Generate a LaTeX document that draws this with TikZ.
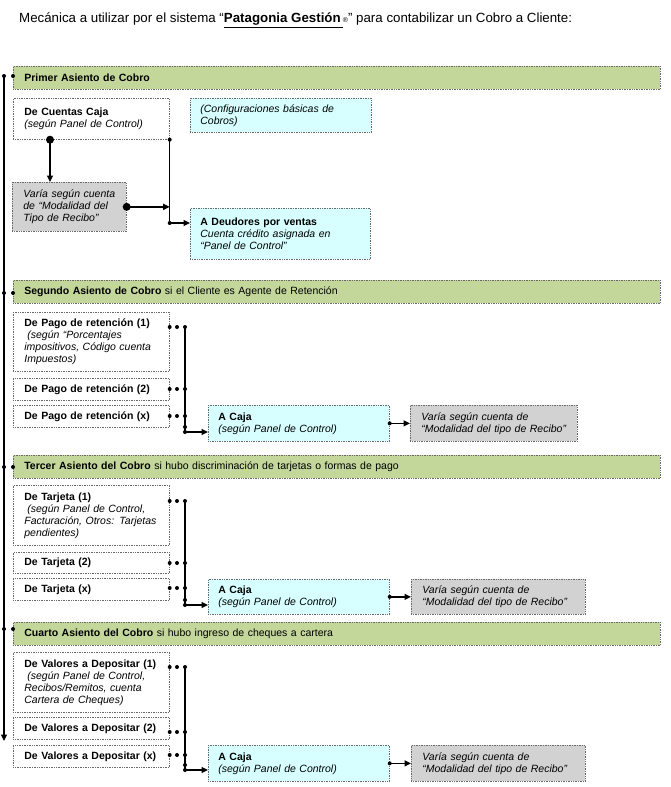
\documentclass[tikz,border=0pt]{standalone}
\usepackage{fontspec}
\setmainfont{Liberation Sans}
\usetikzlibrary{arrows.meta}
\definecolor{greenf}{RGB}{196,215,155}
\definecolor{cyanf}{RGB}{215,255,255}
\definecolor{grayf}{RGB}{210,210,210}
\definecolor{bord}{RGB}{105,105,105}
\newcommand{\bodyfs}{\fontsize{10.5}{12}\selectfont}
\newcommand{\oneline}[1]{\mbox{#1}}
\newcommand{\thickul}[1]{\leavevmode\vtop{\hbox{#1}\kern1.3pt\hrule height 1.3pt}}
\begin{document}
\begin{tikzpicture}[x=1pt,y=-1pt,
  bx/.style={draw=bord, densely dotted, line width=0.7pt, align=left, inner xsep=11pt, inner ysep=0pt,
    anchor=north west, font=\bodyfs, fill=white},
  wbox/.style={bx, text width=134pt},
  cbox/.style={bx, fill=cyanf, inner xsep=10pt, text width=161pt},
  gbox/.style={bx, fill=grayf},
  bar/.style={bx, fill=greenf, text width=625pt, minimum height=23pt},
  arr/.style={line width=1.3pt, -{Triangle[length=6.5pt,width=6pt]}},
]
\useasboundingbox (0,0) rectangle (670,787);

% title
\node[anchor=base west, inner sep=0pt, font=\fontsize{13.3}{15}\selectfont] (title) at (19,22.5)
  {Mecánica a utilizar por el sistema “\thickul{\textbf{Patagonia Gestión}\,}{\scriptsize ®}” para contabilizar un Cobro a Cliente:};

% bars
\node[bar] (b1) at (13,66) {\textbf{Primer Asiento de Cobro}};
\node[bar] (b2) at (13,280) {\textbf{Segundo Asiento de Cobro} si el Cliente es Agente de Retención};
\node[bar] (b3) at (13,455) {\textbf{Tercer Asiento del Cobro} si hubo discriminación de tarjetas o formas de pago};
\node[bar] (b4) at (13,622) {\textbf{Cuarto Asiento del Cobro} si hubo ingreso de cheques a cartera};

% main left line
\coordinate (Ltop) at (4,76);
\coordinate (Lend) at (4,741);
\draw[arr] (Ltop) -- (Lend);
\foreach \yy/\bb in {76/b1,293/b2,467/b3,629/b4}{
  \fill (4,\yy) circle (2);
  \fill (\bb.west |- 0,\yy) circle (2);
}

% ---------- section 1
\node[wbox, minimum height=41pt] (cc) at (13,98)
  {\oneline{\textbf{De Cuentas Caja}}\\\oneline{\textit{(según Panel de Control)}}};
\node[cbox, minimum height=34pt] (conf) at (190,98)
  {\oneline{\textit{(Configuraciones básicas de}}\\\oneline{\textit{Cobros)}}};
\node[gbox, text width=92pt, minimum height=49pt] (var1) at (12,182)
  {\oneline{\textit{Varía según cuenta}}\\\oneline{\textit{de “Modalidad del}}\\\oneline{\textit{Tipo de Recibo”}}};
\node[cbox, text width=160pt, minimum height=51pt] (deu) at (190,208)
  {\oneline{\textbf{A Deudores por ventas}}\\\oneline{\textit{Cuenta crédito asignada en}}\\\oneline{\textit{“Panel de Control”}}};

\coordinate (c1) at (50,0);
\coordinate (dj) at (0,223);
\fill (cc.south -| c1) circle (4);
\draw[arr] (cc.south -| c1) -- (var1.north -| c1);
\fill (var1.east) circle (4);
\draw[arr] (var1.east) -- (cc.south east |- var1.east);
\fill (cc.south east) circle (2);
\fill (cc.south east |- dj) circle (2);
\draw[arr] (cc.south east) |- (deu.west |- dj);

% ---------- section 2
\node[wbox, minimum height=59pt] (p21) at (13,312)
  {\oneline{\textbf{De Pago de retención (1)}}\\\oneline{\textit{\hspace*{3pt}(según “Porcentajes}}\\\oneline{\textit{impositivos, Código cuenta}}\\\oneline{\textit{Impuestos)}}};
\node[wbox, minimum height=22pt] (p22) at (13,378) {\oneline{\textbf{De Pago de retención (2)}}};
\node[wbox, minimum height=22pt] (p23) at (13,405) {\oneline{\textbf{De Pago de retención (x)}}};
\node[cbox, minimum height=36pt] (ac2) at (208,405)
  {\oneline{\textbf{A Caja}}\\\oneline{\textit{(según Panel de Control)}}};
\node[gbox, text width=145pt, minimum height=36pt] (g2) at (410,405)
  {\oneline{\textit{Varía según cuenta de}}\\\oneline{\textit{“Modalidad del tipo de Recibo”}}};

\coordinate (v2) at (185,0);
\foreach \bb/\yy in {p21/327,p22/389,p23/416}{
  \fill (\bb.east |- 0,\yy) circle (2);
  \fill (177,\yy) circle (2);
  \fill (v2 |- 0,\yy) circle (2);
}
\fill (v2 |- 0,427) circle (2);
\fill (v2 |- 0,432) circle (2);
\draw[arr] (v2 |- 0,327) |- (ac2.west |- 0,432);
\fill (ac2.east) circle (2);
\draw[arr] (ac2.east) -- (g2.west);

% ---------- section 3
\node[wbox, minimum height=60pt] (p31) at (13,485)
  {\oneline{\textbf{De Tarjeta (1)}}\\\oneline{\textit{\hspace*{3pt}(según Panel de Control,}}\\\oneline{\textit{Facturación, Otros: Tarjetas}}\\\oneline{\textit{pendientes)}}};
\node[wbox, minimum height=21pt] (p32) at (13,552) {\oneline{\textbf{De Tarjeta (2)}}};
\node[wbox, minimum height=22pt] (p33) at (13,578) {\oneline{\textbf{De Tarjeta (x)}}};
\node[cbox, minimum height=35pt] (ac3) at (208,579)
  {\oneline{\textbf{A Caja}}\\\oneline{\textit{(según Panel de Control)}}};
\node[gbox, text width=152pt, minimum height=35pt] (g3) at (411,579)
  {\oneline{\textit{Varía según cuenta de}}\\\oneline{\textit{“Modalidad del tipo de Recibo”}}};

\coordinate (v3) at (185,0);
\foreach \bb/\yy in {p31/501,p32/563,p33/588}{
  \fill (\bb.east |- 0,\yy) circle (2);
  \fill (177,\yy) circle (2);
  \fill (v3 |- 0,\yy) circle (2);
}
\fill (v3 |- 0,600) circle (2);
\fill (v3 |- 0,605) circle (2);
\draw[arr] (v3 |- 0,501) |- (ac3.west |- 0,605);
\fill (ac3.east) circle (2);
\draw[arr] (ac3.east) -- (g3.west);

% ---------- section 4
\node[wbox, minimum height=60pt] (p41) at (13,652)
  {\oneline{\textbf{De Valores a Depositar (1)}}\\\oneline{\textit{\hspace*{3pt}(según Panel de Control,}}\\\oneline{\textit{Recibos/Remitos, cuenta}}\\\oneline{\textit{Cartera de Cheques)}}};
\node[wbox, minimum height=22pt] (p42) at (13,717) {\oneline{\textbf{De Valores a Depositar (2)}}};
\node[wbox, minimum height=22pt] (p43) at (13,745) {\oneline{\textbf{De Valores a Depositar (x)}}};
\node[cbox, minimum height=36pt] (ac4) at (208,745)
  {\oneline{\textbf{A Caja}}\\\oneline{\textit{(según Panel de Control)}}};
\node[gbox, text width=152pt, minimum height=36pt] (g4) at (411,745)
  {\oneline{\textit{Varía según cuenta de}}\\\oneline{\textit{“Modalidad del tipo de Recibo”}}};

\coordinate (v4) at (185,0);
\foreach \bb/\yy in {p41/667,p42/732,p43/755}{
  \fill (\bb.east |- 0,\yy) circle (2);
  \fill (177,\yy) circle (2);
  \fill (v4 |- 0,\yy) circle (2);
}
\fill (v4 |- 0,765) circle (2);
\fill (v4 |- 0,770) circle (2);
\draw[arr] (v4 |- 0,667) |- (ac4.west |- 0,770);
\fill (ac4.east) circle (2);
\draw[arr] (ac4.east) -- (g4.west);
\end{tikzpicture}
\end{document}
